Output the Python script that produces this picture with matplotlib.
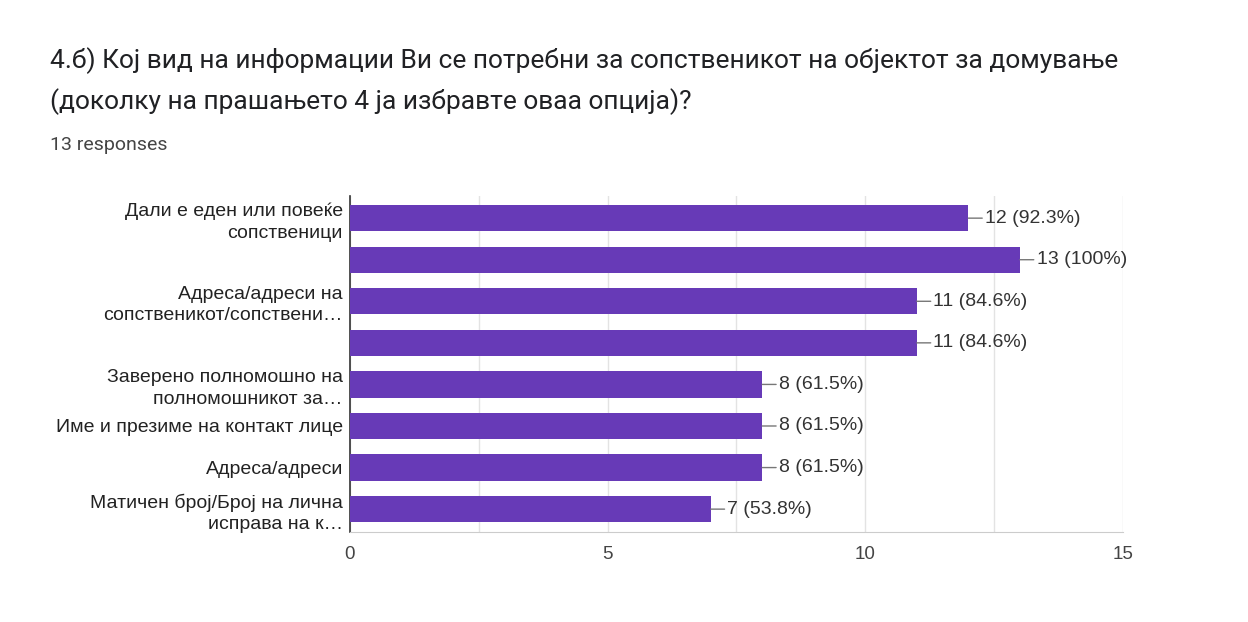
import matplotlib
matplotlib.use('Agg')
import matplotlib.pyplot as plt
from matplotlib.ticker import MultipleLocator

# ── Data ───────────────────────────────────────────────────
labels = [
    'Дали е еден или повеќе\nсопственици',
    '',
    'Адреса/адреси на\nсопственикот/сопствени…',
    '',
    'Заверено полномошно на\nполномошникот за…',
    'Име и презиме на контакт лице',
    'Адреса/адреси',
    'Матичен број/Број на лична\nисправа на к…',
]
counts = [12, 13, 11, 11, 8, 8, 8, 7]
pcts = ['92.3%', '100%', '84.6%', '84.6%', '61.5%', '61.5%', '61.5%', '53.8%']
n_resp = 13

title = ('4.б) Кој вид на информации Ви се потребни за сопственикот на објектот за домување\n'
         '(доколку на прашањето 4 ја избравте оваа опција)?')

BAR = '#673ab7'
ARIAL = ['Liberation Sans', 'DejaVu Sans']
plt.rcParams['font.family'] = ['Roboto', 'DejaVu Sans']

fig = plt.figure(figsize=(12.48, 6.22), dpi=100, facecolor='white')
ax = fig.add_axes([0.2804, 0.1447, 0.6194, 0.540])

y = list(range(len(counts)))
ax.barh(y, counts, height=0.63, color=BAR, zorder=3)

for yi, c, p in zip(y, counts, pcts):
    ax.annotate(f'{c} ({p})', xy=(c, yi), xytext=(12, 0),
                textcoords='offset points', va='center', ha='left',
                fontsize=14, color='#333333', family=ARIAL,
                arrowprops=dict(arrowstyle='-', color='#777777', lw=1,
                                shrinkA=0, shrinkB=0))

ax.set_xlim(0, 15)
ax.set_ylim(len(counts) - 0.45, -0.53)
ax.set_yticks(y)
ax.set_yticklabels(labels, fontsize=14, color='#222222', family=ARIAL,
                   linespacing=1.32)
ax.xaxis.set_major_locator(MultipleLocator(5))
ax.xaxis.set_minor_locator(MultipleLocator(2.5))
for t in ax.get_xticklabels():
    t.set_family(ARIAL)
ax.tick_params(axis='x', which='both', length=0, labelsize=13.5,
               labelcolor='#444444', pad=10)
ax.tick_params(axis='y', length=0, pad=5)
ax.grid(True, axis='x', which='both', color='#e3e3e3', lw=1, zorder=0)
ax.set_axisbelow(True)

for s in ['top', 'right']:
    ax.spines[s].set_visible(False)
ax.spines['left'].set_color('#333333')
ax.spines['left'].set_linewidth(1.2)
ax.spines['bottom'].set_color('#cccccc')

fig.text(50 / 1248, 1 - 47 / 622, title, fontsize=19, color='#202124',
         va='top', ha='left', linespacing=1.68)
fig.text(50 / 1248, 1 - 145 / 622, f'{n_resp} responses', fontsize=14,
         color='#444444', va='center', ha='left')

fig.savefig('out.png', dpi=100, facecolor='white')
